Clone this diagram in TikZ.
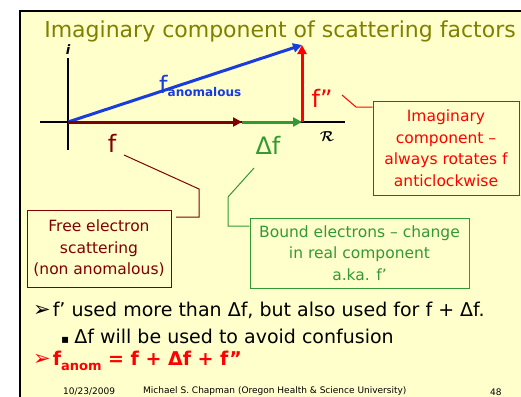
\documentclass[tikz,border=0pt]{standalone}
\usepackage{fontspec}
\setmainfont{DejaVu Sans}
\usepackage{amsmath}
\usetikzlibrary{arrows.meta,positioning}
\definecolor{slideyellow}{HTML}{FFFFCC}
\definecolor{titleolive}{HTML}{808000}
\definecolor{fbrown}{HTML}{800000}
\definecolor{fgreen}{HTML}{339933}
\definecolor{fred}{HTML}{FF0000}
\definecolor{fblue}{HTML}{1A3CDC}

\begin{document}
\begin{tikzpicture}[x=1pt,y=-1pt,
every node/.style={inner sep=0pt},
vec/.style={line width=3pt,-{Triangle[length=9pt,width=9pt]}},
axis/.style={line width=1.5pt,draw=black},
note/.style={draw,line width=1pt,align=center,
font=\fontsize{15.5}{21.5}\selectfont},
lead/.style={line width=1pt},
lbl/.style={font=\fontsize{24}{24}\selectfont},
body/.style={anchor=west,font=\fontsize{19}{19}\selectfont}
]
\useasboundingbox (0,0) rectangle (521,396);
\clip (0,0) rectangle (521,396);
\fill[white] (0,0) rectangle (521,396);
\fill[slideyellow] (19.5,11) rectangle (525,400);
\draw[line width=2pt] (19.5,400) -- (19.5,11) -- (525,11);

\node[font=\fontsize{22}{22}\selectfont,text=titleolive] (title) at (280,31)
  {Imaginary component of scattering factors};

% axes
\coordinate (o) at (68,122);
\coordinate (ftip) at (242,122);
\coordinate (dftip) at (302,122);
\coordinate (imtip) at (302,45);
\draw[axis] (40,122) -- (345,122);
\draw[axis] (68,58) -- (68,150);
\node[font=\bfseries\itshape\fontsize{13}{13}\selectfont] (iax) at (68,50) {i};
\node[font=\Large] (rax) at (327,137) {$\boldsymbol{\mathcal{R}}$};

% vectors
\draw[vec,fblue] (o) -- (imtip);
\draw[vec,fbrown] (o) -- (ftip);
\draw[vec,fgreen] (ftip) -- (dftip);
\draw[vec,fred] (dftip) -- (imtip);

\node[lbl,text=fblue,anchor=base west] (fanom) at (159,93)
  {f\raisebox{-3pt}{\fontsize{12}{12}\selectfont\bfseries anomalous}};
\node[lbl,text=fred] (fdd) at (322,98) {f”};
\node[lbl,text=fbrown] (fval) at (112,143) {f};
\node[lbl,text=fgreen] (dfval) at (268,145) {Δf};

% callout boxes
\node[note,draw=fred,text=fred,minimum width=146pt,minimum height=94pt]
  (imbox) at (446,148) {Imaginary\\component –\\always rotates f\\anticlockwise};
\node[note,draw=fbrown,text=fbrown,minimum width=144pt,minimum height=77pt]
  (freebox) at (99,248.5) {Free electron\\scattering\\(non anomalous)};
\node[note,draw=fgreen,text=fgreen,minimum width=219pt,minimum height=70pt]
  (boundbox) at (359.5,253) {Bound electrons – change\\in real component\\a.ka. f’};

\draw[lead,fred] (342,95) -- (356,107) -- (imbox.west |- 0,107);
\draw[lead,fbrown] (124,155) -- (199,189) -- (199,217) -- (176,217);
\draw[lead,fgreen] (254,168) -- (228,197) -- (228,226) -- (boundbox.west |- 0,226);

% bullets
\node[body] (b1) at (33,310) {\fontsize{21}{21}\selectfont➢\hspace{2pt}\fontsize{19}{19}\selectfont f’ used more than Δf, but also used for f + Δf.};
\node[body] (b2) at (61,336) {\fontsize{12}{12}\selectfont▪\hspace{5pt}\fontsize{19}{19}\selectfont Δf will be used to avoid confusion};
\node[body,text=fred,font=\bfseries\fontsize{19}{19}\selectfont] (b3) at (33,361)
  {\fontsize{21}{21}\selectfont➢\hspace{2pt}\fontsize{19}{19}\selectfont f\raisebox{-5pt}{\fontsize{13}{13}\selectfont anom} = f + Δf + f”};

% footer
\node[anchor=south west,font=\fontsize{9}{9}\selectfont] (date) at (63,395.5) {10/23/2009};
\node[anchor=south west,font=\fontsize{9}{9}\selectfont] (auth) at (143,395.5)
  {Michael S. Chapman (Oregon Health \& Science University)};
\node[anchor=south west,font=\fontsize{9}{9}\selectfont] (page) at (490,395.5) {48};
\end{tikzpicture}
\end{document}
